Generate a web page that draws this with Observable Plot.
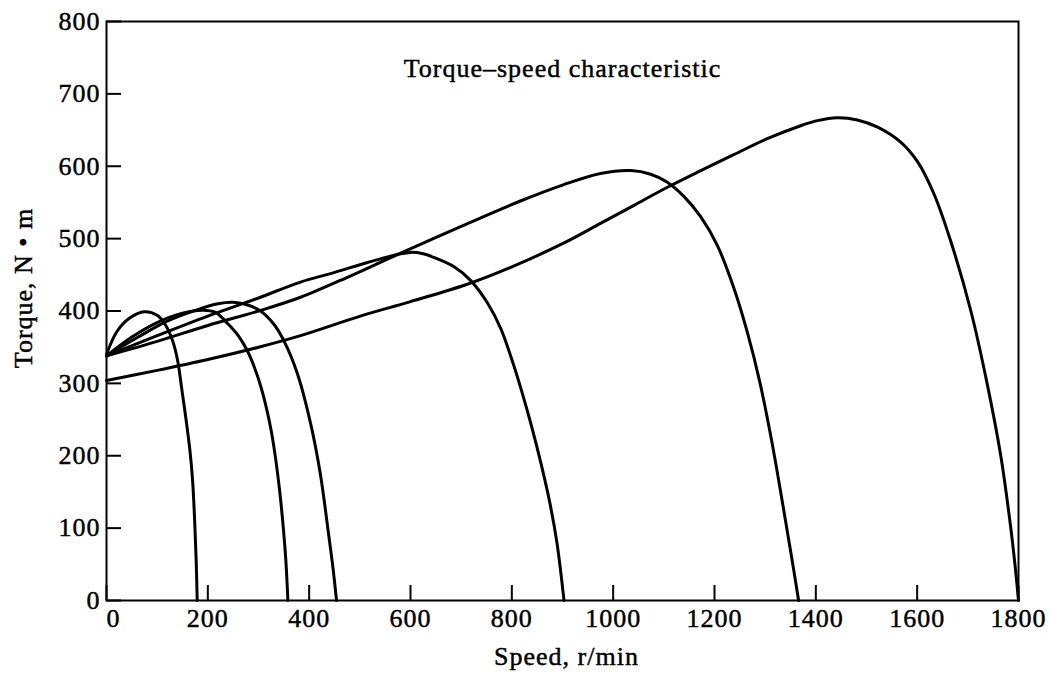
<!DOCTYPE html>
<html>
<head>
<meta charset="utf-8">
<script src="https://cdn.jsdelivr.net/npm/d3@7"></script>
<script src="https://cdn.jsdelivr.net/npm/@observablehq/plot@0.6"></script>
<style>
  html, body { margin: 0; padding: 0; background: #fff; }
  #chart svg text { letter-spacing: 1px; stroke: #000; stroke-width: 0.45px; }
</style>
</head>
<body>
<div id="chart"></div>
<script>
const titleText = "Torque–speed characteristic";
const xLabel = "Speed, r/min";
const yLabel = "Torque, N • m";

const xTickValues = [0, 200, 400, 600, 800, 1000, 1200, 1400, 1600, 1800];
const yTickValues = [0, 100, 200, 300, 400, 500, 600, 700, 800];

// Curve with zero-torque speed ~180 r/min
const speed180  = [0, 20, 45, 75, 100, 117, 130, 140, 149, 158, 165, 170, 174, 177, 179];
const torque180 = [340, 371, 390, 399, 394, 380, 360, 333, 290, 245, 205, 165, 110, 55, 0];

// ~360 r/min
const speed360  = [0, 50, 100, 150, 190, 215, 240, 260, 278, 292, 304, 315, 325, 334, 342, 349, 354, 358];
const torque360 = [338, 364, 384, 397, 401, 398, 382, 366, 345, 322, 297, 268, 235, 195, 150, 100, 55, 0];

// ~455 r/min
const speed455  = [0, 60, 120, 180, 220, 250, 280, 304, 330, 350, 377, 403, 422, 439, 447, 454];
const torque455 = [338, 363, 386, 402, 410, 412, 408, 400, 382, 359, 313, 244, 175, 88, 45, 0];

// ~903 r/min
const speed903  = [0, 100, 200, 300, 383, 449, 515, 574, 600, 625, 646, 686, 719, 752, 778, 800, 820, 840, 858, 875, 889, 903];
const torque903 = [338, 366, 393, 418, 440, 453, 467, 478, 481, 479, 474, 461, 442, 411, 376, 333, 288, 238, 188, 135, 80, 0];

// ~1366 r/min
const speed1366  = [0, 100, 200, 300, 383, 480, 574, 700, 817, 900, 975, 1035, 1074, 1107, 1140, 1173, 1206, 1238, 1265, 1290, 1313, 1333, 1351, 1366];
const torque1366 = [338, 358, 380, 400, 419, 448, 478, 517, 552, 574, 590, 594, 589, 578, 558, 530, 490, 432, 370, 300, 220, 140, 65, 0];

// 1800 r/min
const speed1800  = [0, 100, 200, 300, 383, 501, 600, 712, 800, 900, 975, 1041, 1107, 1173, 1238, 1304, 1370, 1403, 1442, 1482, 1522, 1568, 1601, 1633, 1666, 1706, 1738, 1765, 1783, 1793, 1800];
const torque1800 = [304, 318, 333, 350, 366, 393, 413, 437, 461, 493, 521, 546, 571, 594, 616, 638, 656, 663, 667, 664, 654, 633, 606, 562, 497, 400, 300, 200, 110, 50, 0];

const series = [
  {name: "180", speed: speed180, torque: torque180},
  {name: "360", speed: speed360, torque: torque360},
  {name: "455", speed: speed455, torque: torque455},
  {name: "903", speed: speed903, torque: torque903},
  {name: "1366", speed: speed1366, torque: torque1366},
  {name: "1800", speed: speed1800, torque: torque1800}
];
const rows = series.flatMap(s => s.speed.map((x, i) => ({curve: s.name, speed: x, torque: s.torque[i]})));

const W = 1050, H = 674;
const mL = 106, mR = 32, mT = 21, mB = 74;
const frameW = W - mL - mR, frameH = H - mT - mB;
const tickLen = 15;

const chart = Plot.plot({
  width: W,
  height: H,
  marginLeft: mL,
  marginRight: mR,
  marginTop: mT,
  marginBottom: mB,
  style: {
    fontFamily: '"Liberation Serif", "Times New Roman", serif',
    fontSize: "26px",
    color: "#000",
    background: "#fff"
  },
  x: {domain: [0, 1800]},
  y: {domain: [0, 800]},
  marks: [
    Plot.axisX(xTickValues.filter(d => d !== 0), {tickSize: 0, tickPadding: 8, label: null, tickFormat: d => String(d)}),
    Plot.axisX([0], {tickSize: 0, tickPadding: 8, dx: 7, label: null, tickFormat: d => String(d)}),
    Plot.axisY(yTickValues, {tickSize: 0, tickPadding: 6, label: null, tickFormat: d => String(d)}),
    Plot.tickX(xTickValues, {x: d => d, insetTop: frameH - tickLen, stroke: "#000", strokeWidth: 2}),
    Plot.tickY(yTickValues, {y: d => d, insetRight: frameW - tickLen, stroke: "#000", strokeWidth: 2}),
    Plot.line(rows, {x: "speed", y: "torque", z: "curve", curve: "catmull-rom", stroke: "#000", strokeWidth: 3}),
    Plot.frame({stroke: "#000", strokeWidth: 2}),
    Plot.text([titleText], {text: d => d, frameAnchor: "top", lineAnchor: "top", textAnchor: "middle", dy: 37}),
    Plot.text([xLabel], {text: d => d, frameAnchor: "bottom", lineAnchor: "middle", textAnchor: "middle", dx: 4, dy: 56}),
    Plot.text([yLabel], {text: d => d, frameAnchor: "left", lineAnchor: "middle", textAnchor: "middle", rotate: -90, dx: -83, dy: -23})
  ]
});
document.getElementById("chart").appendChild(chart);
</script>
</body>
</html>
